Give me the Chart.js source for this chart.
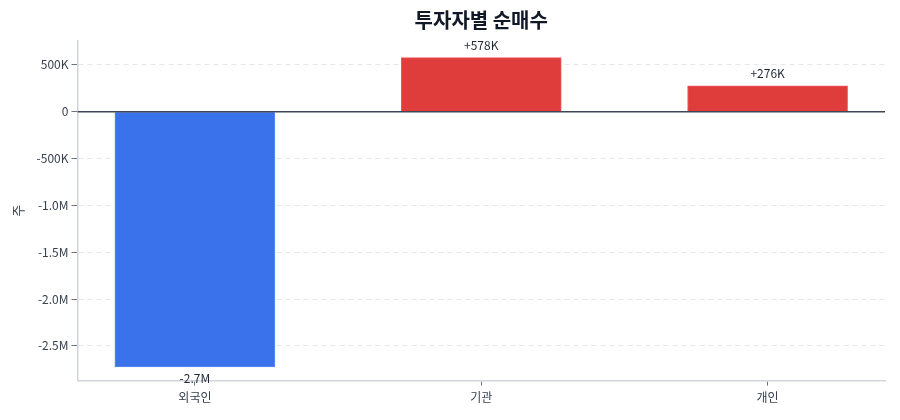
<!DOCTYPE html>
<html>
<head>
<meta charset="utf-8">
<script src="https://cdn.jsdelivr.net/npm/chart.js@4"></script>
<style>
  html, body { margin: 0; padding: 0; background: #fff; }
  #wrap { width: 900px; height: 420px; }
</style>
</head>
<body>
<div id="wrap"><canvas id="netBuy"></canvas></div>
<script>
// 투자자별 순매수 (주)
const investors = ["외국인", "기관", "개인"];
const netShares = [-2725000, 578000, 276000];
const valueLabels = ["-2.7M", "+578K", "+276K"];
const yTicks = [500000, 0, -500000, -1000000, -1500000, -2000000, -2500000];

const FONT = "'Noto Sans CJK KR', 'Noto Sans', sans-serif";

function fmtTick(v) {
    if (v === 0) return "0";
    let a = Math.abs(v);
    if (a >= 1000000) return (v / 1000000).toFixed(1) + "M";
    return (v / 1000) + "K";
}

const barLabels = {
    id: "barLabels",
    afterDatasetsDraw(chart) {
        let ctx = chart.ctx;
        let y = chart.scales.y;
        // zero line over the bars
        let y0 = y.getPixelForValue(0);
        ctx.save();
        ctx.strokeStyle = "#3f4656";
        ctx.lineWidth = 1.3;
        ctx.beginPath();
        ctx.moveTo(chart.chartArea.left, y0);
        ctx.lineTo(chart.chartArea.right, y0);
        ctx.stroke();

        ctx.font = "12px " + FONT;
        ctx.fillStyle = "#1f2937";
        ctx.textAlign = "center";
        chart.getDatasetMeta(0).data.forEach((bar, i) => {
            let v = netShares[i];
            if (v >= 0) {
                ctx.textBaseline = "bottom";
                ctx.fillText(valueLabels[i], bar.x, bar.y - 6);
            } else {
                ctx.textBaseline = "top";
                ctx.fillText(valueLabels[i], bar.x, bar.y + 5);
            }
        });
        ctx.restore();
    }
};

let chartContext = document.getElementById("netBuy").getContext("2d");
new Chart(chartContext, {
    type: "bar",
    data: {
        datasets: [{
            data: netShares.map((v, i) => ({ x: i, y: v })),
            backgroundColor: netShares.map(v => v < 0 ? "#3a72eb" : "#df3c3c"),
            borderColor: netShares.map(v => v < 0 ? "#5a8cf0" : "#ef5a5a"),
            borderWidth: 1,
            barThickness: 160
        }]
    },
    options: {
        responsive: true,
        maintainAspectRatio: false,
        animation: false,
        layout: { padding: { top: 6, right: 15, bottom: 10, left: 10 } },
        plugins: {
            legend: { display: false },
            tooltip: { enabled: false },
            title: {
                display: true,
                text: "투자자별 순매수",
                fullSize: false,
                color: "#111827",
                font: { family: FONT, size: 20, weight: "bold" },
                padding: { top: 2, bottom: 9 }
            }
        },
        scales: {
            x: {
                type: "linear",
                offset: false,
                min: -0.41,
                max: 2.41,
                afterBuildTicks: axis => {
                    axis.ticks = investors.map((_, i) => ({ value: i }));
                },
                ticks: {
                    callback: v => investors[v],
                    color: "#374151",
                    font: { family: FONT, size: 12 },
                    padding: 5
                },
                grid: {
                    offset: false,
                    drawOnChartArea: false,
                    drawTicks: true,
                    tickLength: 5,
                    tickColor: "#6b7280"
                },
                border: { display: true, color: "#d1d5db", width: 1.5 }
            },
            y: {
                min: -2870000,
                max: 755000,
                afterBuildTicks: axis => {
                    axis.ticks = yTicks.map(v => ({ value: v }));
                },
                ticks: {
                    callback: v => fmtTick(v),
                    color: "#374151",
                    font: { family: FONT, size: 12 },
                    padding: 3
                },
                grid: {
                    color: "#e5e7eb",
                    tickColor: "#6b7280",
                    tickLength: 6,
                    tickBorderDash: [],
                    lineWidth: 1
                },
                border: { display: true, color: "#d1d5db", width: 1.5, dash: [5, 4] },
                title: {
                    display: true,
                    text: "주",
                    color: "#374151",
                    font: { family: FONT, size: 13 },
                    padding: { top: 0, bottom: 8 }
                }
            }
        }
    },
    plugins: [barLabels]
});
</script>
</body>
</html>
